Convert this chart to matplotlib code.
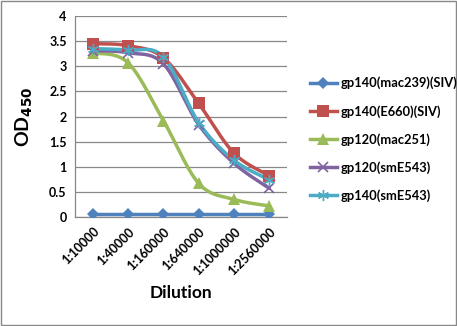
import numpy as np
import matplotlib
matplotlib.use("Agg")
import matplotlib.pyplot as plt
from matplotlib.lines import Line2D
from matplotlib.patches import Rectangle

plt.rcParams['font.family'] = ['Lato', 'DejaVu Sans']

dilutions = ["1:10000", "1:40000", "1:160000", "1:640000", "1:1000000", "1:2560000"]
series_names = ["gp140(mac239)(SIV)", "gp140(E660)(SIV)", "gp120(mac251)",
                "gp120(smE543)", "gp140(smE543)"]
mac239 = [0.05, 0.05, 0.05, 0.05, 0.05, 0.05]
e660 = [3.45, 3.41, 3.17, 2.26, 1.27, 0.82]
mac251 = [3.27, 3.07, 1.92, 0.67, 0.35, 0.22]
sme543_120 = [3.31, 3.27, 3.05, 1.84, 1.07, 0.57]
sme543_140 = [3.35, 3.32, 3.19, 1.88, 1.13, 0.74]

colors = ["#4F81BD", "#C0504D", "#9BBB59", "#8064A2", "#4BACC6"]
markers = ["D", "s", "^", "x", (6, 2, 0)]
msizes = [6, 8, 8, 7, 8]
edge_w = [0, 0, 0, 1.2, 1.0]


def smooth(x, y, n=30):
    """Catmull-Rom style smoothed path through the points."""
    x = np.asarray(x, float)
    y = np.asarray(y, float)
    px = np.concatenate([[x[0]], x, [x[-1]]])
    py = np.concatenate([[y[0]], y, [y[-1]]])
    xs, ys = [], []
    t = np.linspace(0, 1, n)
    for i in range(1, len(px) - 2):
        p0, p1, p2, p3 = (np.array([px[j], py[j]]) for j in range(i - 1, i + 3))
        c1 = p1 + (p2 - p0) / 6
        c2 = p2 - (p3 - p1) / 6
        b = ((1 - t) ** 3)[:, None] * p1 + (3 * (1 - t) ** 2 * t)[:, None] * c1 \
            + (3 * (1 - t) * t ** 2)[:, None] * c2 + (t ** 3)[:, None] * p2
        xs.append(b[:, 0])
        ys.append(b[:, 1])
    return np.concatenate(xs), np.concatenate(ys)


fig = plt.figure(figsize=(4.57, 3.26), dpi=100)
ax = fig.add_axes([75 / 457, 1 - 217 / 326, 212 / 457, 201 / 326])

x = np.arange(len(dilutions))
data = [mac239, e660, mac251, sme543_120, sme543_140]
for vals, c, m, ms, ew in zip(data, colors, markers, msizes, edge_w):
    sx, sy = smooth(x, vals)
    ax.plot(sx, sy, color=c, lw=2.5, zorder=3, solid_capstyle='round')
    ax.plot(x, vals, linestyle='none', marker=m, ms=ms, color=c,
            markeredgecolor=c, markeredgewidth=ew, zorder=4)

ax.set_xlim(-0.5, len(dilutions) - 0.5)
ax.set_ylim(0, 4)
ax.set_yticks(np.arange(0, 4.01, 0.5))
ax.set_yticklabels(["0", "0.5", "1", "1.5", "2", "2.5", "3", "3.5", "4"],
                   fontsize=9, fontweight='bold')
ax.set_xticks(x)
ax.set_xticklabels(dilutions, rotation=45, ha='right', rotation_mode='anchor',
                   fontsize=9, fontweight='bold')
ax.tick_params(axis='both', length=0, pad=6)
ax.yaxis.grid(True, color='#888888', lw=0.9)
ax.set_axisbelow(True)
for s in ['top', 'right']:
    ax.spines[s].set_visible(False)
for s in ['left', 'bottom']:
    ax.spines[s].set_color('#888888')
    ax.spines[s].set_linewidth(0.9)

ax.set_ylabel("OD$_{\\mathbf{450}}$", fontsize=14, fontweight='bold', labelpad=10)
ax.set_xlabel("Dilution", fontsize=12.5, fontweight='bold', labelpad=6)

handles = [Line2D([0], [0], color=c, lw=2.5, marker=m, ms=ms,
                  markeredgecolor=c, markeredgewidth=ew)
           for c, m, ms, ew in zip(colors, markers, msizes, edge_w)]
leg = fig.legend(handles, series_names, loc='upper left',
                 bbox_to_anchor=(298 / 457, 1 - 65 / 326), frameon=False,
                 prop={'size': 9.3, 'weight': 'bold'}, handlelength=2.1,
                 labelspacing=1.2, handletextpad=0.3)

fig.patches.append(Rectangle((0.002, 0.003), 0.995, 0.994, transform=fig.transFigure,
                             fill=False, edgecolor='#888888', lw=1))

fig.savefig("out.png", dpi=100)
